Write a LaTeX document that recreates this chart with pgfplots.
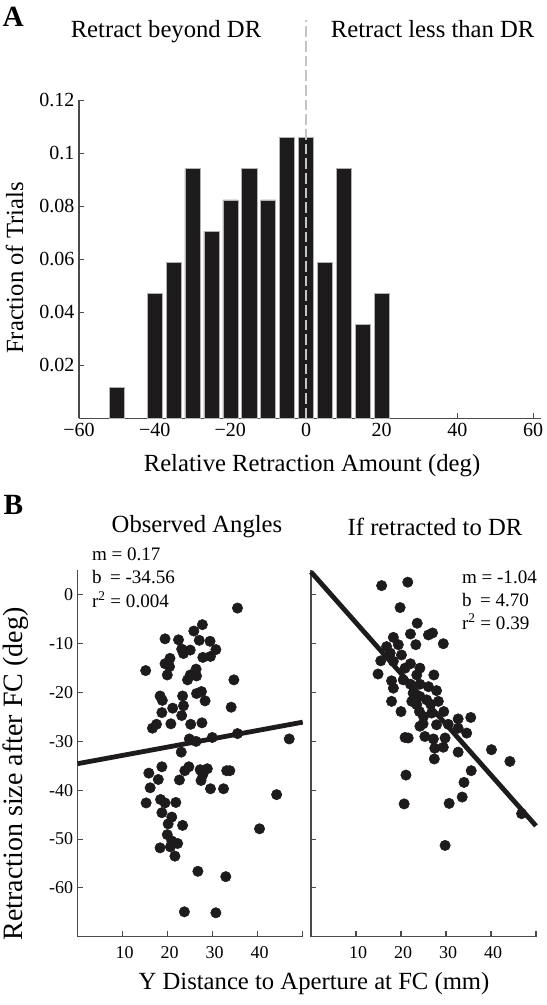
\documentclass[border=0pt]{standalone}
\usepackage{pgfplots}
\pgfplotsset{compat=1.18}
\usepackage{fontspec}
\setmainfont{Liberation Serif}
\definecolor{ink}{HTML}{1E1B1C}
\definecolor{axc}{HTML}{4A4A4A}
\definecolor{dashc}{HTML}{C4C4C4}
\pgfplotstableread{
x y
35.5 -2.7
27.7 -6.1
25.8 -7.4
19.4 -9.0
22.4 -9.2
27.0 -9.3
29.4 -9.5
23.1 -11.1
25.0 -11.3
30.7 -11.2
23.5 -12.0
27.8 -12.8
29.5 -12.6
20.5 -13.0
19.4 -14.1
20.4 -14.7
15.1 -15.5
26.3 -15.2
19.9 -16.4
25.0 -16.4
26.4 -16.6
24.4 -17.4
34.7 -17.4
27.5 -19.8
26.4 -20.2
18.3 -20.7
23.3 -20.7
18.8 -21.6
28.3 -21.7
23.5 -22.7
21.1 -23.2
34.1 -23.0
18.7 -24.1
23.1 -24.7
17.5 -26.5
16.6 -27.3
20.7 -26.4
25.1 -26.5
27.6 -26.2
24.8 -29.5
26.3 -30.0
29.9 -29.2
35.5 -28.4
47.0 -29.5
23.0 -32.2
15.8 -36.5
18.7 -35.2
17.9 -37.8
16.1 -39.5
23.8 -36.0
24.7 -35.2
27.2 -35.8
28.8 -35.6
27.8 -36.8
27.4 -38.0
22.6 -37.9
33.1 -36.0
33.8 -36.0
29.5 -39.7
32.4 -39.7
44.2 -40.9
15.2 -42.6
18.4 -41.9
19.4 -42.6
21.8 -42.5
18.7 -44.6
20.9 -45.5
20.1 -46.9
23.3 -47.2
40.4 -47.9
19.9 -49.1
20.9 -50.4
22.2 -50.9
18.3 -51.8
20.6 -51.6
21.6 -53.5
26.7 -56.6
32.9 -57.7
23.7 -64.9
30.7 -65.1
}\observed
\pgfplotstableread{
x y
15.7 1.9
21.5 2.6
19.8 -2.6
23.6 -5.8
22.1 -8.0
26.1 -8.2
27.0 -7.8
18.3 -8.7
23.3 -10.2
29.4 -10.0
16.8 -10.6
19.4 -10.2
17.6 -11.9
20.1 -12.3
15.5 -13.5
18.3 -13.6
22.1 -14.1
14.9 -16.2
20.9 -15.0
24.2 -15.0
23.5 -16.4
27.3 -16.4
17.9 -17.6
20.5 -17.4
18.3 -19.1
22.1 -18.3
24.2 -18.3
26.1 -18.8
27.9 -19.6
22.7 -20.1
24.2 -20.8
17.9 -21.8
22.4 -21.8
25.7 -21.5
26.6 -22.4
23.5 -22.5
28.3 -21.8
20.0 -23.9
24.1 -23.9
26.8 -24.2
29.5 -23.9
25.0 -24.9
32.7 -25.4
35.5 -25.1
24.2 -26.9
24.9 -26.4
27.9 -26.6
30.5 -26.5
32.7 -27.3
20.9 -29.2
21.6 -29.3
25.3 -29.0
27.2 -29.5
29.8 -29.3
34.6 -28.3
27.5 -31.4
29.4 -31.2
32.7 -32.2
27.4 -33.6
40.1 -31.7
44.2 -34.1
35.6 -36.0
21.1 -36.9
34.0 -38.4
33.6 -41.4
20.7 -42.8
30.7 -42.7
46.8 -44.8
29.8 -51.3
}\ifdr
\begin{document}
\begin{tikzpicture}
\path[use as bounding box] (0pt,0pt) rectangle (409.5pt,753.75pt);
% ---------------- Panel A ----------------
\begin{axis}[
  at={(59.25pt,440pt)}, anchor=south west,
  scale only axis, width=346.2pt, height=238.7pt,
  xmin=-60, xmax=62, ymin=0, ymax=0.12,
  axis lines*=left,
  axis line style={axc, line width=0.8pt, -},
  tick style={axc, line width=0.8pt},
  tick align=inside, major tick length=4pt,
  xtick={-60,-40,-20,0,20,40,60},
  xticklabels={−60,−40,−20,0,20,40,60},
  ytick={0.02,0.04,0.06,0.08,0.1,0.12},
  yticklabels={0.02,0.04,0.06,0.08,0.1,0.12},
  ticklabel style={font=\fontsize{15}{15}\selectfont, text=black},
  /pgf/number format/assume math mode=true,
  clip=false,
]
\addplot[ybar, bar width=4, fill=ink, draw=black!30, line width=0.4pt]
  coordinates {(-50,0.0118) (-40,0.0471) (-35,0.0588) (-30,0.0941) (-25,0.0706)
  (-20,0.0824) (-15,0.0941) (-10,0.0824) (-5,0.1059) (0,0.1059) (5,0.0588)
  (10,0.0941) (15,0.0353) (20,0.0471)};
\addplot[dashc, line width=1.5pt, dash pattern=on 8pt off 3pt] coordinates {(0,0) (0,0.150)};
\end{axis}
% ---------------- Panel B left ----------------
\begin{axis}[
  at={(58.3pt,51.2pt)}, anchor=south west,
  scale only axis, width=168.75pt, height=274.7pt,
  xmin=0, xmax=50, ymin=-70, ymax=5,
  axis lines*=left,
  axis line style={axc, line width=0.8pt, -},
  tick style={axc, line width=0.8pt},
  tick align=inside, major tick length=4pt,
  xtick={10,20,30,40,50}, xticklabels={10,20,30,40,{}},
  ytick={-60,-50,-40,-30,-20,-10,0},
  yticklabels={-60,-50,-40,-30,-20,-10,0},
  ticklabel style={font=\fontsize{13.5}{13.5}\selectfont, text=black},
  xticklabel style={yshift=-4pt, xshift=1.5pt},
  /pgf/number format/assume math mode=true,
  clip=false,
]
\addplot[only marks, mark=*, mark size=3.9pt, ink] table[x=x,y=y] {\observed};
\addplot[ink, line width=3.6pt] coordinates {(0,-34.56) (50,-26.06)};
\end{axis}
% ---------------- Panel B right ----------------
\begin{axis}[
  at={(233.25pt,51.2pt)}, anchor=south west,
  scale only axis, width=168.75pt, height=274.7pt,
  xmin=0, xmax=50, ymin=-70, ymax=5,
  axis lines*=left,
  axis line style={axc, line width=0.8pt, -},
  tick style={axc, line width=0.8pt},
  tick align=inside, major tick length=4pt,
  xtick={10,20,30,40,50}, xticklabels={10,20,30,40,{}},
  ytick={-60,-50,-40,-30,-20,-10,0},
  yticklabels={},
  ticklabel style={font=\fontsize{13.5}{13.5}\selectfont, text=black},
  xticklabel style={yshift=-4pt, xshift=1.5pt},
  /pgf/number format/assume math mode=true,
  clip=false,
]
\addplot[only marks, mark=*, mark size=3.9pt, ink] table[x=x,y=y] {\ifdr};
\addplot[ink, line width=3.6pt] coordinates {(0,4.70) (50,-47.3)};
\end{axis}
% ---------------- Text ----------------
\node[font=\bfseries\fontsize{22}{22}\selectfont, anchor=base] at (10pt,734pt) {A};
\node[font=\bfseries\fontsize{22}{22}\selectfont, anchor=base] at (10pt,367.5pt) {B};
\node[font=\fontsize{18.5}{18.5}\selectfont, anchor=base] at (124.5pt,725.25pt) {Retract beyond DR};
\node[font=\fontsize{18.5}{18.5}\selectfont, anchor=base] at (324.5pt,725.25pt) {Retract less than DR};
\node[font=\fontsize{18.5}{18.5}\selectfont, anchor=base] at (234pt,400pt) {Relative Retraction Amount (deg)};
\node[font=\fontsize{18.5}{18.5}\selectfont, rotate=90] at (11pt,552.75pt) {Fraction of Trials};
\node[font=\fontsize{18.5}{18.5}\selectfont, anchor=base] at (147.75pt,354pt) {Observed Angles};
\node[font=\fontsize{18.5}{18.5}\selectfont, anchor=base] at (326.25pt,351.75pt) {If retracted to DR};
\node[font=\fontsize{14.3}{14.3}\selectfont, anchor=base west, inner sep=0pt] at (68.8pt,333.2pt) {m = 0.17};
\node[font=\fontsize{14.3}{14.3}\selectfont, anchor=base west, inner sep=0pt] at (68.8pt,315.75pt) {b\hspace{0.45em}= -34.56};
\node[font=\fontsize{14.3}{14.3}\selectfont, anchor=base west, inner sep=0pt] at (68.8pt,298.2pt) {r\textsuperscript{2} = 0.004};
\node[font=\fontsize{14.3}{14.3}\selectfont, anchor=base west, inner sep=0pt] at (346.3pt,316.3pt) {m = -1.04};
\node[font=\fontsize{14.3}{14.3}\selectfont, anchor=base west, inner sep=0pt] at (346.3pt,298.7pt) {b\hspace{0.45em}= 4.70};
\node[font=\fontsize{14.3}{14.3}\selectfont, anchor=base west, inner sep=0pt] at (346.3pt,281.8pt) {r\textsuperscript{2} = 0.39};
\node[font=\fontsize{21}{21}\selectfont, rotate=90] at (11.5pt,173.25pt) {Retraction size after FC (deg)};
\node[font=\fontsize{18.5}{18.5}\selectfont, anchor=base] at (235.5pt,11.25pt) {Y Distance to Aperture at FC (mm)};
\end{tikzpicture}
\end{document}
